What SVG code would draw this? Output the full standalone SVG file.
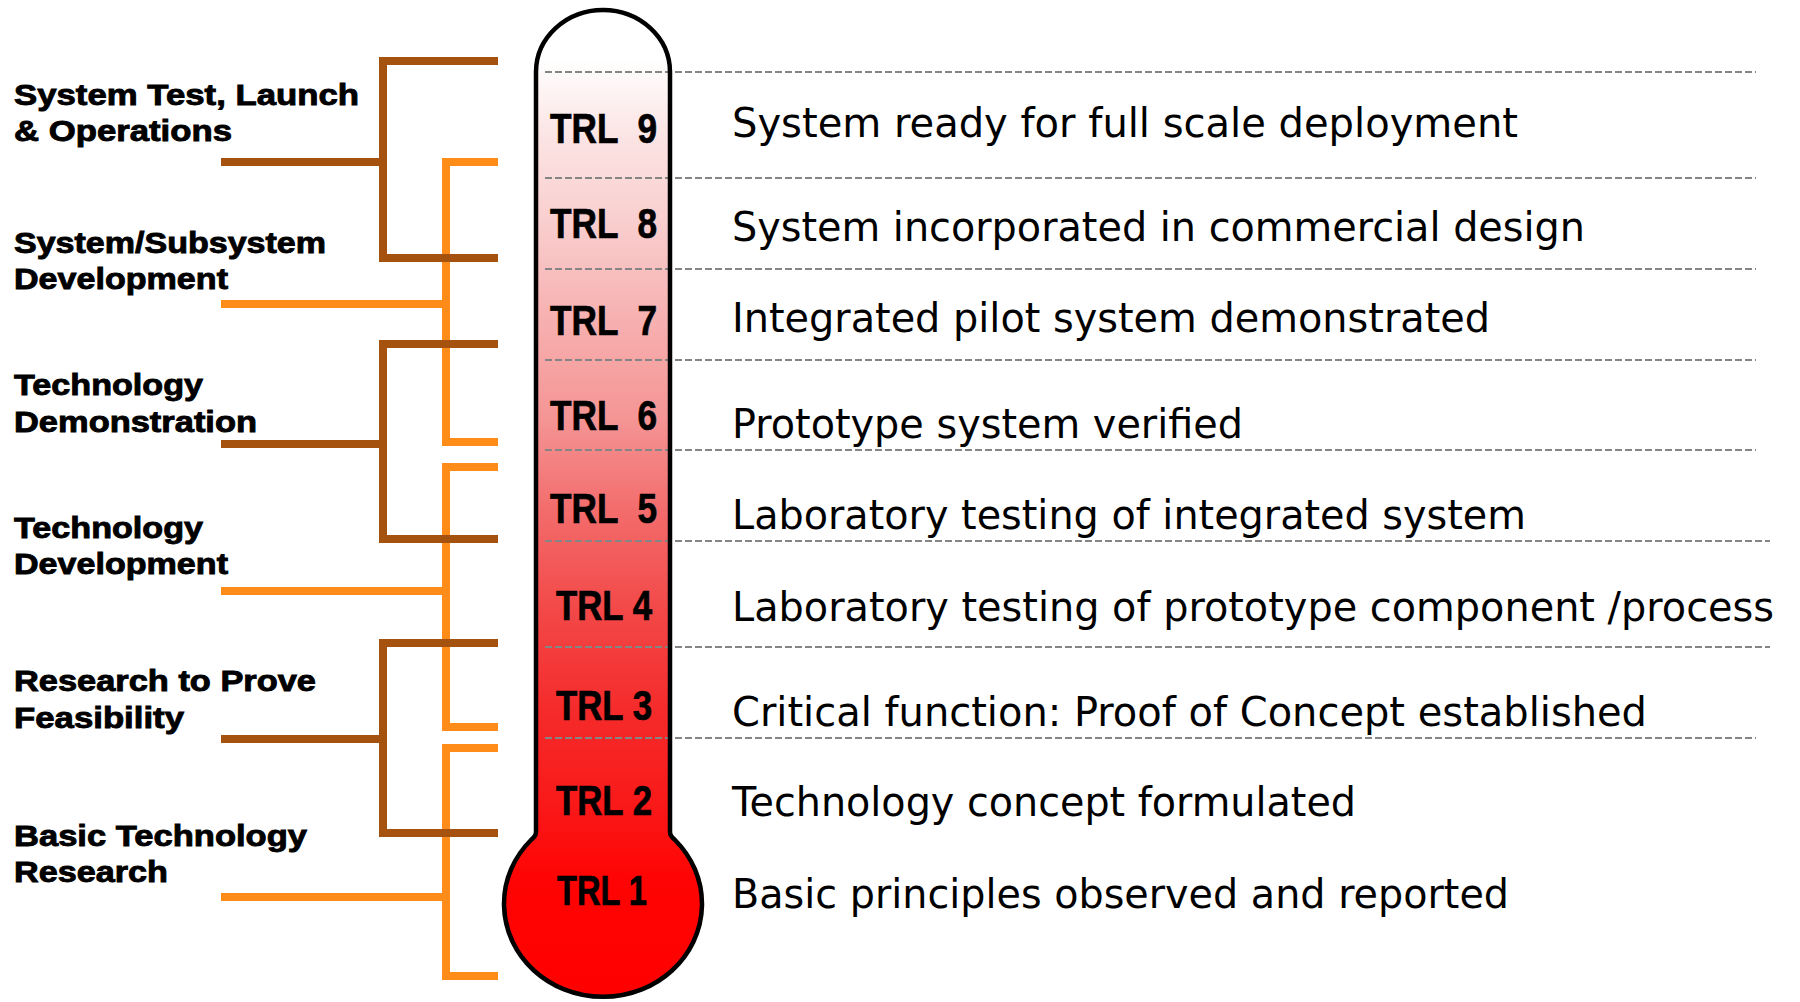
<svg xmlns="http://www.w3.org/2000/svg" width="1800" height="1002" viewBox="0 0 1800 1002">
<style>
.phase{font-family:"Liberation Sans",Arial,sans-serif;font-weight:bold;font-size:30px;fill:#000;stroke:#000;stroke-width:0.9px;}
.trl{font-family:"Liberation Sans",Arial,sans-serif;font-weight:bold;font-size:43px;fill:#000;stroke:#000;stroke-width:0.7px;}
.desc{font-family:"DejaVu Sans","Verdana",sans-serif;font-size:41px;fill:#000;}
.dash{stroke:#858585;stroke-width:2.2;stroke-dasharray:7 3;fill:none;}
.brown{stroke:#a5520f;stroke-width:8;fill:none;stroke-linecap:butt;stroke-linejoin:miter;}
.orange{stroke:#ff8c19;stroke-width:8;fill:none;stroke-linecap:butt;stroke-linejoin:miter;}
</style>
<defs>
<linearGradient id="therm" gradientUnits="userSpaceOnUse" x1="0" y1="60" x2="0" y2="1000">
<stop offset="0" stop-color="#ffffff"/>
<stop offset="0.074" stop-color="#fce6e6"/>
<stop offset="0.18" stop-color="#f9cccc"/>
<stop offset="0.277" stop-color="#f7b0b0"/>
<stop offset="0.383" stop-color="#f59494"/>
<stop offset="0.479" stop-color="#f36c6c"/>
<stop offset="0.585" stop-color="#f34848"/>
<stop offset="0.69" stop-color="#f52b2b"/>
<stop offset="0.787" stop-color="#f91a1a"/>
<stop offset="0.87" stop-color="#ff0404"/>
<stop offset="1" stop-color="#ff0000"/>
</linearGradient>
</defs>
<rect width="1800" height="1002" fill="#ffffff"/>

<g id="connectors">
<path class="orange" d="M498 162 H446 V442 H498 M221 304 H446"/>
<path class="orange" d="M498 467 H446 V727 H498 M221 591 H446"/>
<path class="orange" d="M498 748 H446 V976 H498 M221 897 H446"/>
<path class="brown" d="M498 61 H383 V258 H498 M221 162 H383"/>
<path class="brown" d="M498 344 H383 V539 H498 M221 444 H383"/>
<path class="brown" d="M498 643 H383 V833 H498 M221 739 H383"/>
</g>

<g id="phase-system-test">
<text class="phase" x="14" y="105" textLength="345" lengthAdjust="spacingAndGlyphs">System Test, Launch</text>
<text class="phase" x="14" y="141" textLength="218" lengthAdjust="spacingAndGlyphs">&amp; Operations</text>
</g>
<g id="phase-subsystem">
<text class="phase" x="14" y="253" textLength="312" lengthAdjust="spacingAndGlyphs">System/Subsystem</text>
<text class="phase" x="14" y="289" textLength="214" lengthAdjust="spacingAndGlyphs">Development</text>
</g>
<g id="phase-tech-demo">
<text class="phase" x="14" y="395" textLength="189" lengthAdjust="spacingAndGlyphs">Technology</text>
<text class="phase" x="14" y="432" textLength="243" lengthAdjust="spacingAndGlyphs">Demonstration</text>
</g>
<g id="phase-tech-dev">
<text class="phase" x="14" y="538" textLength="189" lengthAdjust="spacingAndGlyphs">Technology</text>
<text class="phase" x="14" y="574" textLength="214" lengthAdjust="spacingAndGlyphs">Development</text>
</g>
<g id="phase-feasibility">
<text class="phase" x="14" y="691" textLength="302" lengthAdjust="spacingAndGlyphs">Research to Prove</text>
<text class="phase" x="14" y="728" textLength="170" lengthAdjust="spacingAndGlyphs">Feasibility</text>
</g>
<g id="phase-basic">
<text class="phase" x="14" y="846" textLength="293" lengthAdjust="spacingAndGlyphs">Basic Technology</text>
<text class="phase" x="14" y="882" textLength="154" lengthAdjust="spacingAndGlyphs">Research</text>
</g>

<g id="thermometer">
<path d="M536 832 V72 A67 62 0 0 1 670 72 V832 Q670 836 675 840 A99 93 0 1 1 531 840 Q536 836 536 832 Z" fill="url(#therm)"/>
<g id="separators">
<line class="dash" x1="545" y1="72" x2="1756" y2="72"/>
<line class="dash" x1="545" y1="178" x2="1756" y2="178"/>
<line class="dash" x1="545" y1="269" x2="1756" y2="269"/>
<line class="dash" x1="545" y1="360" x2="1756" y2="360"/>
<line class="dash" x1="545" y1="450" x2="1756" y2="450"/>
<line class="dash" x1="545" y1="541" x2="1770" y2="541"/>
<line class="dash" x1="545" y1="647" x2="1770" y2="647"/>
<line class="dash" x1="545" y1="738" x2="1756" y2="738"/>
</g>
<path d="M536 832 V72 A67 62 0 0 1 670 72 V832 Q670 836 675 840 A99 93 0 1 1 531 840 Q536 836 536 832 Z" fill="none" stroke="#000" stroke-width="4.5" stroke-linejoin="round"/>
</g>

<g id="trl9">
<text class="trl" x="550" y="143" textLength="107" lengthAdjust="spacingAndGlyphs" xml:space="preserve">TRL  9</text>
<text class="desc" x="732" y="137" textLength="786" lengthAdjust="spacingAndGlyphs">System ready for full scale deployment</text>
</g>
<g id="trl8">
<text class="trl" x="550" y="238" textLength="107" lengthAdjust="spacingAndGlyphs" xml:space="preserve">TRL  8</text>
<text class="desc" x="732" y="241" textLength="853" lengthAdjust="spacingAndGlyphs">System incorporated in commercial design</text>
</g>
<g id="trl7">
<text class="trl" x="550" y="335" textLength="107" lengthAdjust="spacingAndGlyphs" xml:space="preserve">TRL  7</text>
<text class="desc" x="732" y="332" textLength="758" lengthAdjust="spacingAndGlyphs">Integrated pilot system demonstrated</text>
</g>
<g id="trl6">
<text class="trl" x="550" y="430" textLength="107" lengthAdjust="spacingAndGlyphs" xml:space="preserve">TRL  6</text>
<text class="desc" x="732" y="438" textLength="511" lengthAdjust="spacingAndGlyphs">Prototype system verified</text>
</g>
<g id="trl5">
<text class="trl" x="550" y="523" textLength="107" lengthAdjust="spacingAndGlyphs" xml:space="preserve">TRL  5</text>
<text class="desc" x="732" y="529" textLength="794" lengthAdjust="spacingAndGlyphs">Laboratory testing of integrated system</text>
</g>
<g id="trl4">
<text class="trl" x="556" y="620" textLength="96" lengthAdjust="spacingAndGlyphs">TRL 4</text>
<text class="desc" x="732" y="621" textLength="1042" lengthAdjust="spacingAndGlyphs">Laboratory testing of prototype component /process</text>
</g>
<g id="trl3">
<text class="trl" x="556" y="720" textLength="96" lengthAdjust="spacingAndGlyphs">TRL 3</text>
<text class="desc" x="732" y="726" textLength="915" lengthAdjust="spacingAndGlyphs">Critical function: Proof of Concept established</text>
</g>
<g id="trl2">
<text class="trl" x="556" y="815" textLength="96" lengthAdjust="spacingAndGlyphs">TRL 2</text>
<text class="desc" x="732" y="816" textLength="624" lengthAdjust="spacingAndGlyphs">Technology concept formulated</text>
</g>
<g id="trl1">
<text class="trl" x="557" y="905" textLength="90" lengthAdjust="spacingAndGlyphs">TRL 1</text>
<text class="desc" x="732" y="908" textLength="777" lengthAdjust="spacingAndGlyphs">Basic principles observed and reported</text>
</g>
</svg>
